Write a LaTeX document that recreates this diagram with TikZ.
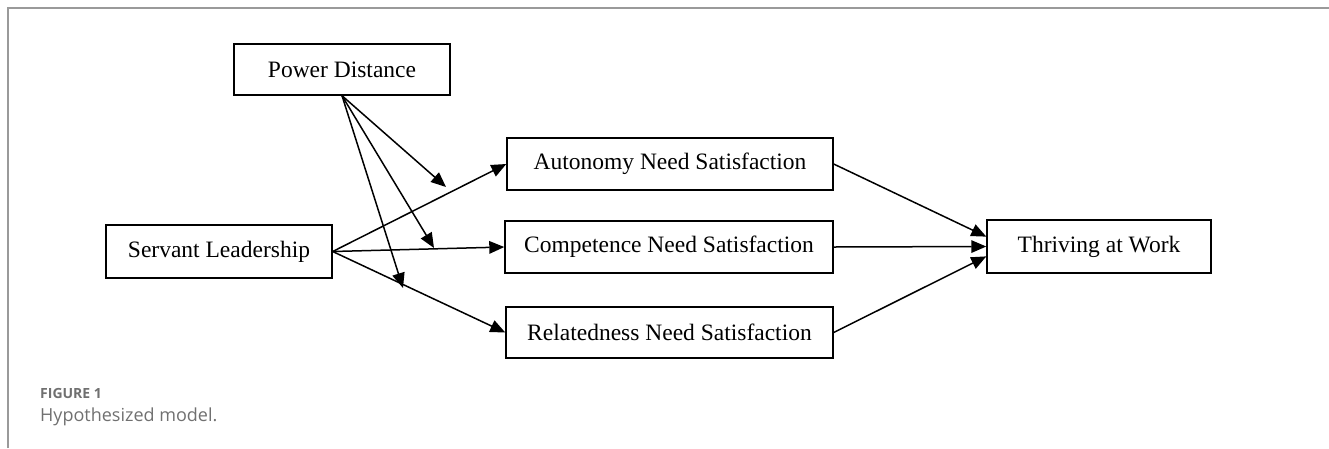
\documentclass[tikz,border=0pt]{standalone}
\usepackage{fontspec}
\setmainfont{Liberation Serif}
\newfontfamily\capfont{Open Sans}
\usetikzlibrary{arrows.meta}
\definecolor{framegray}{HTML}{9A9A9A}
\definecolor{capgray}{HTML}{707070}
\tikzset{
  varbox/.style={draw, line width=1.4pt, minimum height=52pt, inner sep=0pt,
    font=\fontsize{23.5}{26}\selectfont},
  path/.style={line width=1.5pt, -{Triangle[length=15pt,width=12.5pt]}}
}
\begin{document}
\begin{tikzpicture}[x=1pt,y=-1pt]
   \useasboundingbox (0,0) rectangle (1329,448);
   \draw[color=framegray, line width=2pt] (8,448) -- (8,8) -- (1329,8);
   % variables
   \node[varbox, minimum width=216pt, minimum height=51pt] (pd) at (342,69.5) {Power Distance};
   \node[varbox, minimum width=226pt, minimum height=53pt] (sl) at (219,251.5) {Servant Leadership};
   \node[varbox, minimum width=326pt] (an) at (670,164) {Autonomy Need Satisfaction};
   \node[varbox, minimum width=328pt] (cn) at (669,247) {Competence Need Satisfaction};
   \node[varbox, minimum width=327pt, minimum height=51pt] (rn) at (669.5,332.5) {Relatedness Need Satisfaction};
   \node[varbox, minimum width=224pt, minimum height=53pt] (tw) at (1099,246.5) {Thriving at Work};
   % moderation points
   \coordinate (m1) at (446,187);
   \coordinate (m2) at (434,248);
   \coordinate (m3) at (403,288);
   \draw[path] (sl.east) -- (an.west);
   \draw[path] (sl.east) -- (cn.west);
   \draw[path] (sl.east) -- (rn.west);
   \draw[path] (pd.south) -- (m1);
   \draw[path] (pd.south) -- (m2);
   \draw[path] (pd.south) -- (m3);
   \draw[path] (an.east) -- (tw.175);
   \draw[path] (cn.east) -- (tw.west);
   \draw[path] (rn.east) -- (tw.185);
   % caption
   \node[anchor=base west, inner sep=0pt, color=capgray, font=\capfont\bfseries\fontsize{14}{16}\selectfont] (fig) at (40,398) {FIGURE 1};
   \node[anchor=base west, inner sep=0pt, color=capgray, font=\capfont\fontsize{18}{20}\selectfont] (cap) at (40,421) {Hypothesized model.};
\end{tikzpicture}
\end{document}
